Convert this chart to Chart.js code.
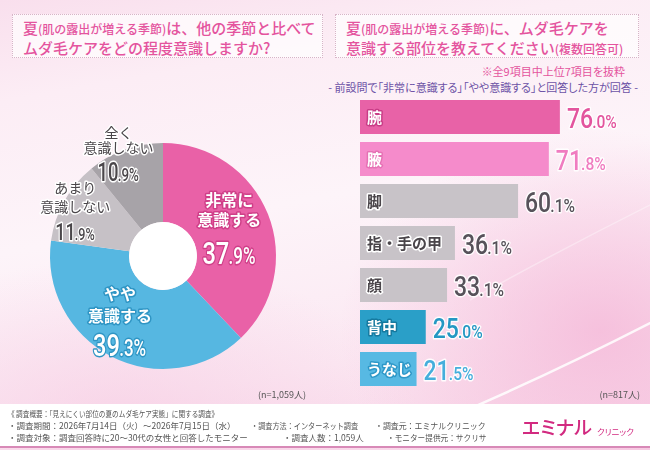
<!DOCTYPE html>
<html lang="ja">
<head>
<meta charset="utf-8">
<script src="https://cdn.jsdelivr.net/npm/chart.js@4.4.0/dist/chart.umd.min.js"></script>
<style>
	body { margin: 0; }
	#wrap {
		position: relative; width: 650px; height: 450px; overflow: hidden;
		font-family: "Noto Sans CJK JP", sans-serif;
		background:
			radial-gradient(ellipse 260px 200px at 600px 330px, rgba(244,180,214,0.75), rgba(244,180,214,0) 100%),
			radial-gradient(ellipse 300px 160px at 120px 420px, rgba(246,200,225,0.6), rgba(246,200,225,0) 100%),
			linear-gradient(170deg, #f9dfed 0%, #fcedf5 18%, #fdf4f9 45%, #fbe8f2 75%, #f8d3e7 100%);
	}
	.box {
		position: absolute; border: 1px dotted #d7b4c7; background: rgba(255,255,255,0.7);
		color: #e4549e; font-size: 15px; font-weight: 500; line-height: 19px; white-space: nowrap;
		box-sizing: border-box;
	}
	.box small { font-size: 12px; }
	.txt { position: absolute; white-space: nowrap; font-feature-settings: "palt"; }
	#foot { position: absolute; left: 0; top: 404px; width: 650px; height: 42px; background: #fff; }
	#line { position: absolute; left: 0; top: 446px; width: 650px; height: 2px; background: #d889b7; }
	.ft { position: absolute; font-size: 8.5px; color: #555; white-space: nowrap; line-height: 10px; transform-origin: left center; }
	canvas { position: absolute; }
</style>
</head>
<body>
<div id="wrap">
	<svg width="650" height="450" style="position:absolute;left:0;top:0">
		<path d="M 420 430 Q 540 380 660 318" stroke="rgba(255,255,255,0.85)" stroke-width="2.5" fill="none"/>
		<path d="M 470 300 Q 560 250 660 200" stroke="rgba(255,255,255,0.35)" stroke-width="1.5" fill="none"/>
	</svg>

	<div class="box" style="left:12px;top:14px;width:311px;height:44px;padding:3px 0 0 10px">
		夏<small>(肌の露出が増える季節)</small>は、他の季節と比べて<br>ムダ毛ケアをどの程度意識しますか?
	</div>
	<div class="box" style="left:335px;top:14px;width:304px;height:44px;padding:3px 0 0 10px">
		夏<small>(肌の露出が増える季節)</small>に、ムダ毛ケアを<br>意識する部位を教えてください<small>(複数回答可)</small>
	</div>
	<div class="txt" style="right:25px;top:63px;font-size:11px;color:#e4549e">※全9項目中上位7項目を抜粋</div>
	<div class="txt" style="right:12px;top:79px;font-size:11px;color:#6c52a6">- 前設問で「非常に意識する」「やや意識する」と回答した方が回答 -</div>

	<canvas id="pieChart" width="330" height="330" style="left:0;top:91px"></canvas>
	<canvas id="barChart" width="310" height="310" style="left:340px;top:90px"></canvas>

	<div class="txt" style="left:258px;top:388px;font-size:9px;color:#555">(n=1,059人)</div>
	<div class="txt" style="right:10px;top:388px;font-size:9px;color:#555">(n=817人)</div>

	<div id="foot"></div>
	<div id="line"></div>
	<div class="ft" style="left:8px;top:408px;transform:scaleX(0.78)">《 調査概要：「見えにくい部位の夏のムダ毛ケア実態」に関する調査》</div>
	<div class="ft" style="left:8px;top:420px">・調査期間：2026年7月14日（火）～2026年7月15日（水）</div>
	<div class="ft" style="left:251px;top:420px;transform:scaleX(0.84)">・調査方法：インターネット調査</div>
	<div class="ft" style="left:375px;top:420px;transform:scaleX(0.93)">・調査元：エミナルクリニック</div>
	<div class="ft" style="left:8px;top:432px">・調査対象：調査回答時に20～30代の女性と回答したモニター</div>
	<div class="ft" style="left:283px;top:432px">・調査人数：1,059人</div>
	<div class="ft" style="left:387px;top:432px;transform:scaleX(0.9)">・モニター提供元：サクリサ</div>
	<div class="txt" style="left:522px;top:413px;font-size:19px;color:#d22a80;font-weight:500">エミナル</div>
	<div class="txt" style="left:597px;top:425px;font-size:8.5px;color:#d22a80">クリニック</div>
</div>

<script>
	// 左：意識の程度
	let pieLabels = [ [ '非常に', '意識する' ], [ 'やや', '意識する' ], [ 'あまり', '意識しない' ], [ '全く', '意識しない' ] ]
	let pieValues = [ 37.9, 39.3, 11.9, 10.9 ]

	// 右：部位（複数回答）
	let barLabels = [ '腕', '腋', '脚', '指・手の甲', '顔', '背中', 'うなじ' ]
	let barValues = [ 76.0, 71.8, 60.1, 36.1, 33.1, 25.0, 21.5 ]

	let pieColors = [ '#e961a7', '#56b7e1', '#c6c1c6', '#a7a3a8' ]
	let barColors = [ '#e862a7', '#f58bcb', '#c8c3c8', '#c8c3c8', '#c8c3c8', '#2a9fc8', '#57b9e3' ]

	let numFont = 'Roboto, "Noto Sans", sans-serif'
	let jpFont = '"Noto Sans CJK JP", sans-serif'

	function outlined(ctx, text, x, y, fill, stroke, lw) {
		ctx.lineJoin = 'round'
		if (lw > 0) {
			ctx.lineWidth = lw
			ctx.strokeStyle = stroke
			ctx.strokeText(text, x, y)
		}
		ctx.fillStyle = fill
		ctx.fillText(text, x, y)
	}

	// 76.0% -> 整数部を大きく、小数部と%を小さく（横に詰めて描く）
	function drawPct(ctx, value, x, y, align, big, small, sx, fill, stroke, lw) {
		let parts = value.toFixed(1).split('.')
		let a = parts[0], b = '.' + parts[1] + '%'
		ctx.textBaseline = 'alphabetic'
		ctx.textAlign = 'left'
		ctx.font = '500 ' + big + 'px ' + numFont
		let wa = ctx.measureText(a).width
		ctx.font = '500 ' + small + 'px ' + numFont
		let wb = ctx.measureText(b).width
		let x0 = align == 'center' ? x - (wa + wb) * sx / 2 : x
		ctx.save()
		ctx.translate(x0, y)
		ctx.scale(sx, 1)
		ctx.font = '500 ' + big + 'px ' + numFont
		outlined(ctx, a, 0, 0, fill, stroke, lw)
		ctx.font = '500 ' + small + 'px ' + numFont
		outlined(ctx, b, wa - 1, 0, fill, stroke, lw)
		ctx.restore()
	}

	// ラベルの置き方（半径比・微調整・文字）
	let pieLabelRadius = [ 0.67, 0.66, 0.89, 1.04 ]
	let pieLabelNudge = [ [ -4, -8 ], [ -9, -6 ], [ 0, 0 ], [ -5, 2 ] ]
	let pieLabelStyle = [
		{ fill: '#fff', stroke: '#cf3f88', size: 16, weight: 'bold', gap: 20, pct: 44, big: 32, small: 23 },
		{ fill: '#fff', stroke: '#2f95c4', size: 16, weight: 'bold', gap: 22, pct: 40, big: 32, small: 23 },
		{ fill: '#4a464a', stroke: '#fff', size: 14, weight: 'normal', gap: 19, pct: 33, big: 24, small: 17 },
		{ fill: '#4a464a', stroke: '#fff', size: 14, weight: 'normal', gap: 15, pct: 34, big: 25, small: 18 }
	]

	let pieLabelPlugin = {
		id: 'pieLabel',
		afterDatasetsDraw(chart) {
			let ctx = chart.ctx
			let arcs = chart.getDatasetMeta(0).data
			ctx.save()
			// 中央の穴は白
			ctx.beginPath()
			ctx.arc(arcs[0].x, arcs[0].y, arcs[0].innerRadius, 0, Math.PI * 2)
			ctx.fillStyle = '#fff'
			ctx.fill()
			arcs.forEach((arc, i) => {
				let mid = (arc.startAngle + arc.endAngle) / 2
				let r = arc.outerRadius * pieLabelRadius[i]
				let x = arc.x + Math.cos(mid) * r + pieLabelNudge[i][0]
				let y = arc.y + Math.sin(mid) * r + pieLabelNudge[i][1]
				let s = pieLabelStyle[i]
				ctx.font = s.weight + ' ' + s.size + 'px ' + jpFont
				ctx.textAlign = 'center'
				ctx.textBaseline = 'middle'
				outlined(ctx, pieLabels[i][0], x, y - s.gap, s.fill, s.stroke, 3)
				outlined(ctx, pieLabels[i][1], x, y, s.fill, s.stroke, 3)
				drawPct(ctx, pieValues[i], x, y + s.pct, 'center', s.big, s.small, 0.74, s.fill, s.stroke, 3)
			})
			ctx.restore()
		}
	}

	let barTextFill = [ '#fff', '#fff', '#4a454a', '#4a454a', '#4a454a', '#fff', '#fff' ]
	let barTextStroke = [ '#c93d87', '#e571b4', '#fff', '#fff', '#fff', '#15799f', '#2e98c8' ]
	let barValueColor = [ '#e3559e', '#f07cc0', '#57525a', '#57525a', '#57525a', '#2598c3', '#45aedc' ]

	let barLabelPlugin = {
		id: 'barLabel',
		afterDatasetsDraw(chart) {
			let ctx = chart.ctx
			ctx.save()
			chart.getDatasetMeta(0).data.forEach((bar, i) => {
				ctx.font = 'bold 15px ' + jpFont
				ctx.textAlign = 'left'
				ctx.textBaseline = 'middle'
				outlined(ctx, barLabels[i], bar.base + 7, bar.y, barTextFill[i], barTextStroke[i], 3)
				drawPct(ctx, barValues[i], bar.x + 7, bar.y + 11, 'left', 28, 19, 0.82, barValueColor[i], 'rgba(255,255,255,0.9)', 3)
			})
			ctx.restore()
		}
	}

	let pieChart = new Chart(document.getElementById('pieChart').getContext('2d'), {
		type : 'doughnut',
		data : {
			labels : pieLabels.map(l => l.join('')),
			datasets : [ {
				data : pieValues,
				backgroundColor : pieColors,
				borderWidth : 0
			} ]
		},
		options : {
			responsive : false,
			animation : false,
			cutout : '30%',
			events : [],
			layout : { padding : { left : 50, right : 54, top : 52, bottom : 52 } },
			plugins : { legend : { display : false }, tooltip : { enabled : false } }
		},
		plugins : [ pieLabelPlugin ]
	})

	let barChart = new Chart(document.getElementById('barChart').getContext('2d'), {
		type : 'bar',
		data : {
			labels : barLabels,
			datasets : [ {
				data : barValues,
				backgroundColor : barColors,
				borderWidth : 0,
				barPercentage : 0.81,
				categoryPercentage : 1
			} ]
		},
		options : {
			indexAxis : 'y',
			responsive : false,
			animation : false,
			events : [],
			layout : { padding : { left : 20, right : 27, top : 6, bottom : 10 } },
			scales : {
				x : { min : 0, max : 100, display : false },
				y : { display : false }
			},
			plugins : { legend : { display : false }, tooltip : { enabled : false } }
		},
		plugins : [ barLabelPlugin ]
	})
</script>
</body>
</html>
